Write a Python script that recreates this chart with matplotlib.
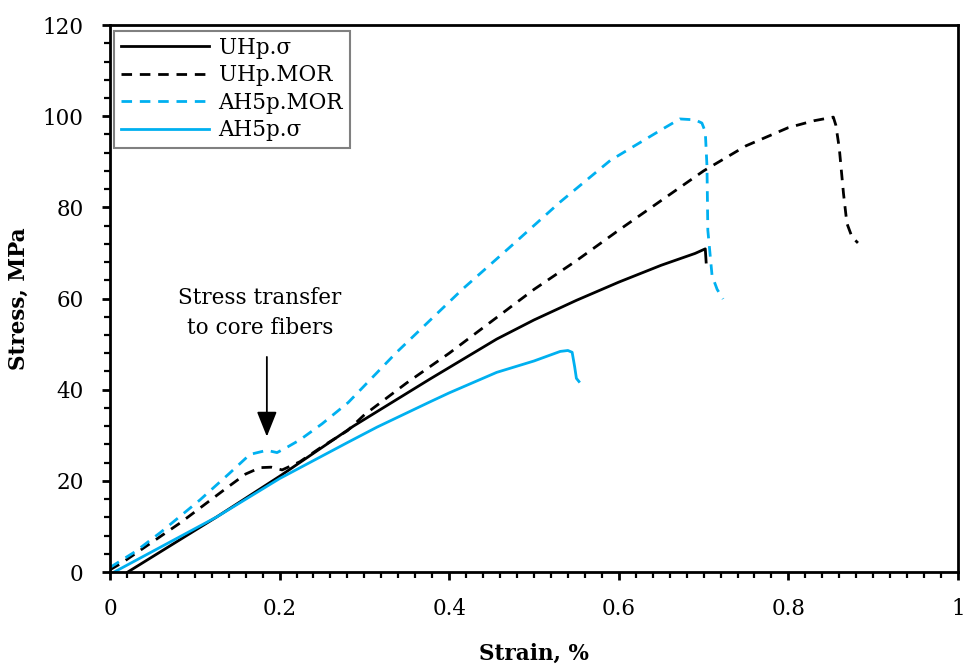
import matplotlib
matplotlib.use("Agg")
import matplotlib.pyplot as plt
from matplotlib.ticker import MultipleLocator

# data (strain %, stress MPa)
uhp_sigma_x = [0.021, 0.126, 0.2, 0.287, 0.377, 0.456, 0.5, 0.55, 0.6, 0.65, 0.69, 0.702, 0.703]
uhp_sigma_y = [0.0, 12.1, 21.0, 32.0, 42.3, 51.1, 55.3, 59.6, 63.6, 67.3, 69.9, 70.9, 68.0]

uhp_mor_x = [0.0, 0.014, 0.083, 0.138, 0.16, 0.177, 0.19, 0.203, 0.224, 0.25, 0.28, 0.3, 0.35,
             0.4, 0.45, 0.5, 0.55, 0.6, 0.65, 0.7, 0.75, 0.8, 0.83, 0.853, 0.856, 0.86,
             0.865, 0.869, 0.875, 0.882]
uhp_mor_y = [0.5, 2.0, 10.8, 18.5, 21.5, 22.9, 23.0, 22.4, 24.2, 27.5, 31.0, 34.5, 41.5,
             48.0, 55.0, 62.0, 68.3, 75.0, 81.5, 88.0, 93.5, 97.5, 99.0, 99.8, 98.0, 93.0,
             83.0, 76.5, 73.5, 72.2]

ah5p_mor_x = [0.0, 0.03, 0.059, 0.106, 0.14, 0.165, 0.185, 0.197, 0.21, 0.224, 0.25, 0.281,
              0.338, 0.416, 0.47, 0.531, 0.59, 0.649, 0.672, 0.69, 0.698, 0.702, 0.704,
              0.705, 0.71, 0.716, 0.723]
ah5p_mor_y = [1.0, 4.5, 8.6, 15.8, 21.5, 25.8, 26.7, 26.2, 27.5, 29.0, 32.5, 37.2,
              48.2, 62.1, 71.0, 81.2, 90.3, 96.9, 99.4, 99.2, 98.5, 96.6, 89.0,
              75.0, 65.0, 62.0, 59.9]

ah5p_sigma_x = [0.005, 0.126, 0.2, 0.28, 0.315, 0.377, 0.4, 0.456, 0.5, 0.531, 0.54, 0.545,
                0.548, 0.55, 0.553]
ah5p_sigma_y = [0.0, 12.1, 20.5, 28.4, 31.8, 37.3, 39.3, 43.8, 46.3, 48.4, 48.6, 48.2,
                45.0, 42.5, 41.8]

blue = "#00B0F0"
plt.rcParams["font.family"] = ["DejaVu Serif"]
plt.rcParams["font.size"] = 15.5

fig = plt.figure(figsize=(9.63, 6.66), dpi=100)
ax = fig.add_axes([0.1142, 0.1411, 0.8806, 0.8213])

lw = 2.0
ax.plot(uhp_sigma_x, uhp_sigma_y, color="black", lw=lw, label="UHp.σ")
ax.plot(uhp_mor_x, uhp_mor_y, color="black", lw=lw, dashes=(3.8, 2.8), label="UHp.MOR")
ax.plot(ah5p_mor_x, ah5p_mor_y, color=blue, lw=lw, dashes=(3.8, 2.8), label="AH5p.MOR")
ax.plot(ah5p_sigma_x, ah5p_sigma_y, color=blue, lw=lw, label="AH5p.σ")

ax.set_xlim(0, 1)
ax.set_ylim(0, 120)
ax.xaxis.set_minor_locator(MultipleLocator(0.02))
ax.yaxis.set_major_locator(MultipleLocator(20))
ax.yaxis.set_minor_locator(MultipleLocator(4))
ax.set_xticks([0, 0.2, 0.4, 0.6, 0.8, 1.0])
ax.set_xticklabels(["0", "0.2", "0.4", "0.6", "0.8", "1"])
ax.tick_params(which="major", direction="out", length=6, width=2, pad=13)
ax.tick_params(which="minor", direction="out", length=4, width=1.6)
for s in ax.spines.values():
    s.set_linewidth(2)

ax.set_xlabel("Strain, %", fontweight="bold", labelpad=16)
ax.set_ylabel("Stress, MPa", fontweight="bold", labelpad=9)

# annotation
ax.annotate("", xy=(0.185, 29.1), xytext=(0.185, 47.8),
            arrowprops=dict(arrowstyle="-|>,head_width=0.4,head_length=1.0",
                            color="black", lw=1.3))
ax.text(0.177, 56.8, "Stress transfer\nto core fibers", ha="center", va="center",
        linespacing=1.45)

leg = ax.legend(loc="upper left", bbox_to_anchor=(0.005, 0.99), fancybox=False,
                edgecolor="#808080", framealpha=1, handlelength=4.1,
                handletextpad=0.45, borderaxespad=0, labelspacing=0.25, borderpad=0.3)
leg.get_frame().set_linewidth(1.5)

fig.savefig("out.png", dpi=100)
